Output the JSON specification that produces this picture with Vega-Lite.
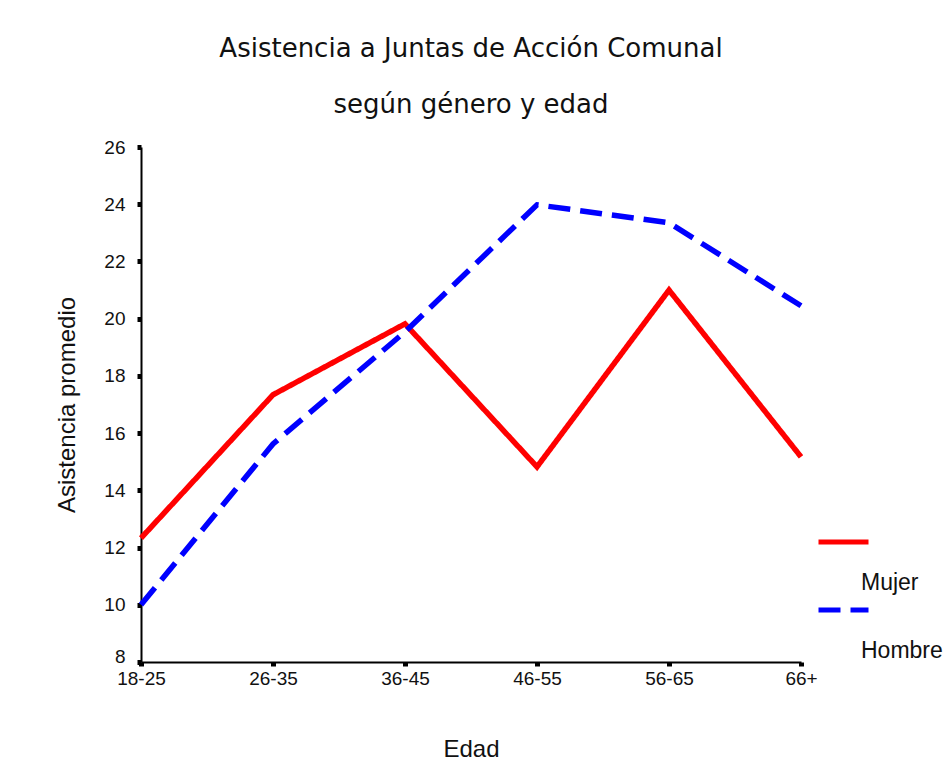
{
  "$schema": "https://vega.github.io/schema/vega-lite/v6.json",
  "autosize": {"type": "none"},
  "padding": {"left": 141, "top": 147, "right": 149, "bottom": 106},
  "width": 660,
  "height": 515,
  "background": "white",
  "title": {
    "text": ["Asistencia a Juntas de Acción Comunal", "según género y edad"],
    "font": "DejaVu Sans",
    "fontSize": 26,
    "fontWeight": "normal",
    "color": "#111111",
    "lineHeight": 56,
    "anchor": "middle",
    "offset": 20
  },
  "data": {
    "values": [
      {"edad": "18-25", "sexo": "Mujer", "asistencia": 12.33},
      {"edad": "26-35", "sexo": "Mujer", "asistencia": 17.34},
      {"edad": "36-45", "sexo": "Mujer", "asistencia": 19.82},
      {"edad": "46-55", "sexo": "Mujer", "asistencia": 14.82},
      {"edad": "56-65", "sexo": "Mujer", "asistencia": 21.0},
      {"edad": "66+", "sexo": "Mujer", "asistencia": 15.17},
      {"edad": "18-25", "sexo": "Hombre", "asistencia": 10.0},
      {"edad": "26-35", "sexo": "Hombre", "asistencia": 15.62},
      {"edad": "36-45", "sexo": "Hombre", "asistencia": 19.54},
      {"edad": "46-55", "sexo": "Hombre", "asistencia": 23.98},
      {"edad": "56-65", "sexo": "Hombre", "asistencia": 23.35},
      {"edad": "66+", "sexo": "Hombre", "asistencia": 20.45}
    ]
  },
  "mark": {"type": "line", "strokeWidth": 5.5, "strokeCap": "butt", "strokeJoin": "miter"},
  "encoding": {
    "x": {
      "field": "edad",
      "type": "ordinal",
      "sort": ["18-25", "26-35", "36-45", "46-55", "56-65", "66+"],
      "scale": {"type": "point", "padding": 0},
      "axis": {
        "title": "Edad",
        "labelAngle": 0,
        "labelPadding": 3,
        "titlePadding": 49,
        "labelBaseline": "top"
      }
    },
    "y": {
      "field": "asistencia",
      "type": "quantitative",
      "scale": {"domain": [8, 26], "nice": false, "zero": false},
      "axis": {
        "title": "Asistencia promedio",
        "values": [8, 10, 12, 14, 16, 18, 20, 22, 24, 26],
        "labelPadding": 12,
        "titlePadding": 24,
        "labelBaseline": {"expr": "datum.value == 8 ? 'alphabetic' : 'middle'"}
      }
    },
    "color": {
      "field": "sexo",
      "type": "nominal",
      "scale": {"domain": ["Mujer", "Hombre"], "range": ["#ff0000", "#0000ff"]},
      "legend": {
        "title": null,
        "values": ["Mujer"],
        "orient": "none",
        "legendX": 675,
        "legendY": 363,
        "symbolType": "stroke",
        "symbolSize": 2500,
        "symbolStrokeWidth": 5,
        "labelFont": "Liberation Sans",
        "labelFontSize": 23,
        "labelColor": "#111111",
        "labelOffset": -10,
        "labelBaseline": "top",
        "labelExpr": "['', datum.label]",
        "clipHeight": 64,
        "encode": {"labels": {"update": {"lineHeight": {"value": 30}}}}
      }
    },
    "strokeDash": {
      "field": "sexo",
      "type": "nominal",
      "scale": {"domain": ["Hombre", "Mujer"], "range": [[22, 10], [1, 0]]},
      "legend": {
        "title": null,
        "values": ["Hombre"],
        "orient": "none",
        "legendX": 675,
        "legendY": 431,
        "symbolType": "stroke",
        "symbolSize": 2500,
        "symbolStrokeWidth": 5,
        "symbolStrokeColor": "#0000ff",
        "labelFont": "Liberation Sans",
        "labelFontSize": 23,
        "labelColor": "#111111",
        "labelOffset": -10,
        "labelBaseline": "top",
        "labelExpr": "['', datum.label]",
        "clipHeight": 64,
        "encode": {"labels": {"update": {"lineHeight": {"value": 30}}}}
      }
    }
  },
  "config": {
    "view": {"stroke": null},
    "axis": {
      "grid": false,
      "domainColor": "#000000",
      "domainWidth": 2,
      "tickColor": "#000000",
      "tickWidth": 5,
      "tickSize": 4,
      "labelFont": "Liberation Sans",
      "labelFontSize": 19,
      "labelColor": "#111111",
      "titleFont": "Liberation Sans",
      "titleFontSize": 24,
      "titleFontWeight": "normal",
      "titleColor": "#111111"
    }
  }
}
